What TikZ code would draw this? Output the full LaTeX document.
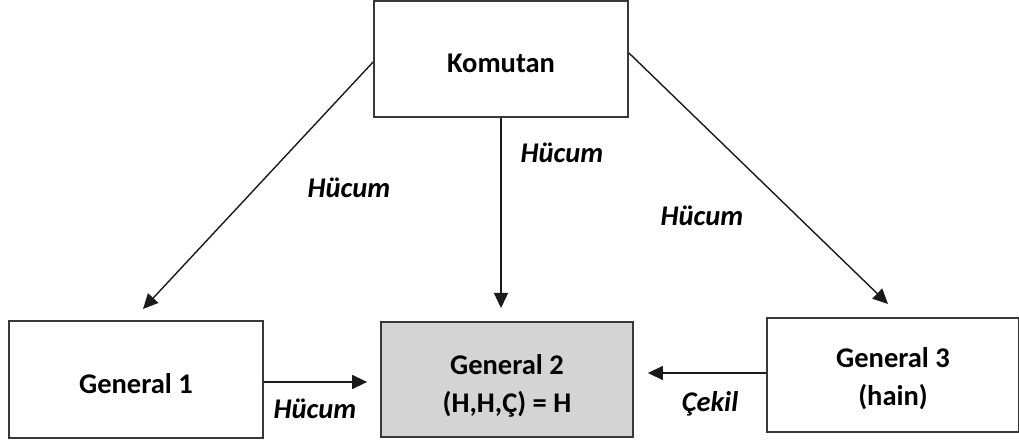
\documentclass[tikz,border=0pt]{standalone}
\usepackage{fontspec}
\setmainfont{Carlito}
\usetikzlibrary{arrows.meta}
\definecolor{boxline}{HTML}{383838}
\definecolor{boxgray}{HTML}{D4D4D4}
\definecolor{arrline}{HTML}{1A1A1A}
\begin{document}
\begin{tikzpicture}[x=1pt,y=-1pt,
  box/.style={draw=boxline, line width=1.8pt, inner sep=0pt},
  txt/.style={inner sep=0pt, align=center,
    font=\fontsize{28.5}{38}\selectfont\bfseries},
  arr/.style={draw=arrline, line width=1.4pt, -{Triangle[length=15pt,width=14pt]}},
  lbl/.style={font=\fontsize{28.5}{32}\selectfont\bfseries\itshape, inner sep=0pt}]
\useasboundingbox (0,0) rectangle (1019,443);
\node[box, minimum width=254pt, minimum height=116pt] (kom) at (501,59) {};
\node[box, minimum width=254pt, minimum height=117pt] (g1) at (136,379.5) {};
\node[box, fill=boxgray, minimum width=252pt, minimum height=115pt] (g2) at (507,379.5) {};
\node[box, minimum width=252pt, minimum height=114pt] (g3) at (893,375) {};
\node[txt] (komt) at ([yshift=-4pt]kom.center) {Komutan};
\node[txt] (g1t) at ([yshift=-4.5pt]g1.center) {General 1};
\node[txt] (g2t) at ([yshift=-6pt]g2.center) {General 2\\(H,H,Ç) = H};
\node[txt] (g3t) at ([yshift=-3.5pt]g3.center) {General 3\\(hain)};
\coordinate (t1) at (143,309);
\coordinate (t2) at (501,308);
\coordinate (t3) at (888,304);
\draw[arr] ([yshift=-3pt]kom.west) -- (t1);
\draw[arr] (kom.south) -- (t2);
\draw[arr] ([yshift=6pt]kom.east) -- (t3);
\draw[arr] ([yshift=-2.5pt]g1.east) -- ([xshift=-13pt,yshift=-2.5pt]g2.west);
\draw[arr] ([yshift=2pt]g3.west) -- ([xshift=14pt,yshift=6.5pt]g2.east);
\node[lbl] (l1) at (349,188) {Hücum};
\node[lbl] (l2) at (562,153) {Hücum};
\node[lbl] (l3) at (702,216) {Hücum};
\node[lbl] (l4) at (315,409) {Hücum};
\node[lbl] (l5) at (710,404) {Çekil};
\end{tikzpicture}
\end{document}
